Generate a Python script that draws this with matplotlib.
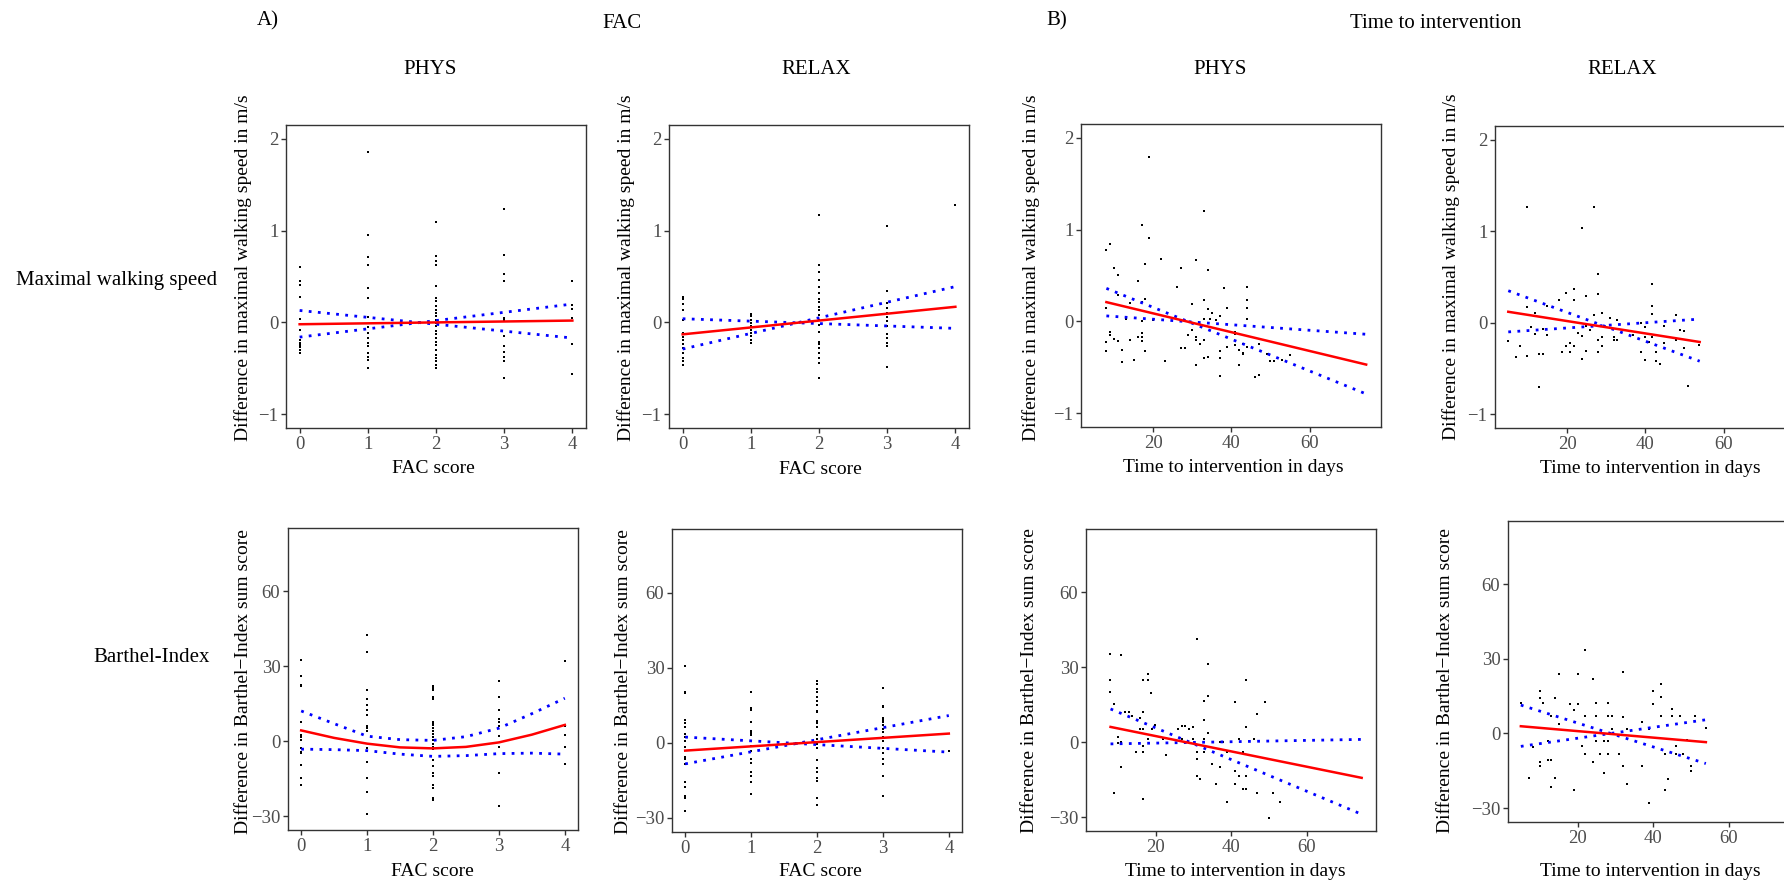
import numpy as np
import matplotlib.pyplot as plt

plt.rcParams['font.family'] = ['Liberation Serif', 'DejaVu Serif']
plt.rcParams['axes.unicode_minus'] = True

W, H = 1784, 885

# ---------------- data ----------------
fac_scores = [0, 1, 2, 3, 4]

# A) FAC score vs change in maximal walking speed (m/s)
phys_speed_fac = [
    [0.60, 0.45, 0.41, 0.28, 0.04, -0.08, -0.19, -0.22, -0.25, -0.27, -0.30, -0.33],
    [1.86, 0.95, 0.71, 0.62, 0.37, 0.27, 0.06, -0.05, -0.12, -0.17, -0.22, -0.26, -0.33, -0.38, -0.41, -0.50],
    [1.09, 0.72, 0.67, 0.62, 0.40, 0.27, 0.23, 0.18, 0.14, 0.10, 0.07, 0.03, -0.01, -0.04, -0.09, -0.13,
     -0.17, -0.21, -0.25, -0.30, -0.35, -0.39, -0.42, -0.46, -0.50],
    [1.24, 0.73, 0.53, 0.45, 0.05, 0.03, -0.15, -0.26, -0.32, -0.38, -0.42, -0.61],
    [0.45, 0.19, 0.15, 0.05, -0.24, -0.56],
]
relax_speed_fac = [
    [0.28, 0.25, 0.20, 0.13, 0.03, -0.12, -0.16, -0.19, -0.24, -0.28, -0.33, -0.39, -0.42, -0.46],
    [0.09, 0.07, 0.03, -0.01, -0.04, -0.08, -0.12, -0.15, -0.19, -0.22],
    [1.17, 0.62, 0.55, 0.46, 0.39, 0.32, 0.26, 0.22, 0.17, 0.13, 0.08, 0.03, -0.03, -0.10, -0.21, -0.24,
     -0.28, -0.33, -0.39, -0.44, -0.60],
    [1.05, 0.34, 0.21, 0.16, 0.10, 0.06, 0.01, -0.04, -0.13, -0.17, -0.22, -0.26, -0.49],
    [1.28],
]

# A) FAC score vs change in Barthel-Index
phys_barthel_fac = [
    [32.5, 26.1, 22.3, 21.9, 7.5, 2.3, 1.5, 0.5, -2.8, -4.4, -4.8, -9.7, -14.8, -17.7],
    [42.5, 35.9, 20.3, 16.9, 14.5, 12.5, 10.5, 5.9, 5.2, 3.9, -2.8, -4.1, -8.4, -14.8, -20.5, -29.2],
    [22.1, 21.2, 20.3, 17.6, 16.9, 7.6, 6.9, 6.3, 5.2, 3.9, 2.8, 1.5, 0.3, -1.1, -2.4, -3.1, -7.5, -9.9,
     -12.8, -13.9, -17.7, -18.8, -22.8, -23.5],
    [23.9, 17.6, 12.3, 8.9, 7.6, 6.1, 2.1, -2.4, -12.8, -26.1],
    [32.3, 6.1, 2.3, -2.5, -9.2],
]
relax_barthel_fac = [
    [30.5, 20.3, 19.9, 9.2, 7.9, 6.3, 3.6, 2.5, 0.9, -1.7, -5.5, -6.4, -8.4, -15.7, -17.5, -21.1, -22.0, -27.1],
    [20.5, 13.9, 13.2, 8.3, 4.9, 4.0, 3.2, -1.3, -3.3, -6.4, -8.0, -11.7, -13.1, -15.7, -20.4],
    [24.9, 23.6, 21.6, 20.3, 18.3, 16.9, 15.2, 12.9, 12.3, 8.9, 7.9, 6.3, 3.2, 1.6, -0.4, -2.0, -6.8,
     -10.1, -11.7, -14.1, -15.1, -22.0, -24.7],
    [22.0, 14.9, 14.3, 10.0, 9.2, 8.3, 7.2, 5.6, 4.3, 2.3, 0.9, -2.0, -4.1, -6.4, -8.4, -13.3, -21.1],
    [-3.1],
]

# B) time to intervention (days) vs change in maximal walking speed
phys_speed_days = [19, 17, 19, 9, 8, 18, 22, 10, 11, 16, 27, 31, 34, 33, 26, 38, 44, 44, 44, 44,
                   8, 11, 14, 17, 18, 13, 17, 20, 30, 33, 34, 33, 34.4, 35, 36, 37, 39,
                   8, 8, 9, 9, 10, 11, 12, 12, 14, 15, 16, 17, 17, 17, 18, 23, 27, 28, 28, 29,
                   30, 31, 31, 32, 33, 33, 31, 34, 37, 37, 37, 39, 41, 41, 41, 42, 42, 43, 43, 43,
                   46, 47, 47, 49, 50, 51, 53, 55, 44]
phys_speed_diff = [1.79, 1.05, 0.91, 0.84, 0.78, 0.63, 0.68, 0.58, 0.51, 0.44, 0.58, 0.67, 0.56, 1.20,
                   0.37, 0.36, 0.37, 0.23, 0.15, 0.03,
                   0.15, 0.29, 0.20, 0.21, 0.24, 0.03, 0.00, 0.01, 0.19, 0.23, 0.13, 0.03, 0.03, 0.09,
                   0.01, 0.06, 0.15,
                   -0.22, -0.32, -0.11, -0.15, -0.19, -0.21, -0.31, -0.44, -0.20, -0.42, -0.17, -0.13,
                   -0.17, -0.21, -0.32, -0.43, -0.29, -0.29, 0.00, -0.15,
                   -0.09, -0.17, -0.20, -0.25, -0.20, -0.40, -0.47, -0.39, -0.32, -0.40, -0.59, -0.28,
                   -0.11, -0.14, -0.26, -0.31, -0.48, -0.25, -0.34, -0.36,
                   -0.60, -0.58, -0.25, -0.35, -0.43, -0.43, -0.42, -0.37, -0.28]
relax_speed_days = [9.7, 26.8, 23.8, 27.9, 41.8, 19.7, 21.7, 24.9, 27.9, 17.9, 21.7, 9.7, 41.8, 41.8,
                    11.8, 14.8, 28.9, 30.9, 32.8, 26.8, 47.8,
                    4.9, 6.8, 7.8, 9.7, 10.8, 11.8, 12.7, 13.8, 13.8, 14.8, 12.7, 18.7, 19.7, 20.8,
                    21.7, 20.8, 22.7, 23.8, 23.8, 24.9, 24.9, 25.9, 27.9, 27.9, 28.9, 28.9, 31.9,
                    31.9, 32.8, 36.8, 38.8, 39.8, 39.8, 40.9, 41.8, 42.8, 42.8, 43.8, 44.8, 45.8,
                    47.8, 44.8, 48.8, 49.8, 49.8, 50.8, 53.8, 39.8, 38.8]
relax_speed_diff = [1.26, 1.26, 1.04, 0.53, 0.42, 0.32, 0.37, 0.29, 0.31, 0.25, 0.25, 0.17, 0.18, 0.10,
                    0.11, 0.18, 0.11, 0.05, 0.03, 0.08, 0.09,
                    -0.20, -0.37, -0.25, -0.36, -0.05, -0.12, -0.34, -0.34, -0.07, -0.13, -0.70,
                    -0.32, -0.25, -0.22, -0.25, -0.32, -0.11, -0.15, -0.40, -0.03, -0.31, -0.08,
                    -0.19, -0.32, -0.25, -0.16, -0.16, -0.19, -0.19, -0.13, -0.32, -0.41, -0.16,
                    -0.21, -0.16, -0.32, -0.42, -0.45, -0.22, -0.16, -0.19, -0.04, -0.08, -0.09,
                    -0.28, -0.69, -0.24, -0.05, 0.00]

# B) time to intervention (days) vs change in Barthel-Index
phys_barthel_days = [7.8, 10.7, 7.8, 7.8, 8.9, 9.9, 9.9, 10.8, 8.9, 10.8, 11.9, 12.9, 13.7, 14.8, 15.7,
                     15.7, 16.7, 17.8, 17.8, 16.7, 16.7, 16.7, 16.7, 16.7, 17.8, 18.8, 18.9, 19.8,
                     21.9, 22.8, 25.8, 26.9, 27.8, 26.9, 28.8, 29.8, 29.8, 30.9, 30.9, 30.9, 30.9,
                     31.7, 32.8, 32.8, 32.8, 32.8, 33.9, 33.9, 33.9, 34.8, 35.9, 36.9, 36.9, 37.7,
                     38.8, 38.8, 40.9, 40.9, 40.9, 41.9, 41.9, 43.0, 43.0, 43.9, 43.9, 43.9, 43.9,
                     45.9, 46.9, 46.9, 48.9, 51.0, 52.9, 49.9]
phys_barthel_diff = [35.2, 35.1, 25.1, 20.1, 15.3, 2.0, -0.3, 0.1, -20.3, -10.0, 12.1, 12.1, 10.4,
                     -3.9, 9.7, 5.1, 24.8, 24.8, 27.2, 12.1, 5.1, -1.6, -3.9, -22.9, 1.3, 19.7, 5.1,
                     6.8, 1.1, -5.2, 5.1, 6.4, 6.4, 1.1, 5.1, 6.1, 1.1, 41.3, -3.9, -6.7, -13.6,
                     -14.9, 16.4, 8.7, 1.1, -3.9, 31.3, 18.4, 3.5, -8.7, -16.7, 0.0, -10.0, 0.0,
                     -3.9, -23.9, 16.1, -11.6, -16.7, 1.1, -13.6, -3.9, -18.7, 25.1, 6.1, -13.6,
                     -18.7, 1.1, 11.1, -20.3, 16.1, -20.3, -23.9, -30.3]
relax_barthel_days = [4.9, 7.0, 8.0, 10.0, 10.0, 10.0, 10.0, 10.9, 12.0, 12.0, 12.9, 12.9, 12.9, 14.0,
                      14.0, 14.9, 14.9, 18.0, 19.0, 19.0, 20.0, 20.0, 21.0, 21.9, 21.9, 21.9, 24.0,
                      24.0, 24.9, 24.9, 24.9, 25.9, 27.0, 27.0, 28.0, 28.0, 28.0, 28.0, 29.0, 29.0,
                      30.9, 32.0, 32.0, 32.0, 33.0, 33.0, 36.9, 36.9, 38.9, 38.9, 39.9, 39.9, 42.0,
                      42.0, 42.0, 43.0, 43.0, 44.0, 45.0, 45.0, 45.9, 45.9, 47.0, 47.9, 48.9, 49.9,
                      49.9, 50.9, 53.9]
relax_barthel_diff = [12.4, -17.8, -5.6, 17.2, 14.4, -11.6, -12.9, 12.4, -2.9, -10.5, -10.5, -21.4,
                      7.2, 14.4, -17.8, 23.7, 3.7, 11.8, 9.4, -22.9, 23.7, 11.8, -5.2, 33.4, 7.0,
                      -8.1, 21.7, -11.6, 12.4, 7.0, -2.9, -8.1, -15.8, -2.9, 12.4, 7.0, -2.9, -8.1,
                      7.0, 1.7, -8.1, 24.7, 6.8, -13.2, 1.7, -20.2, 4.8, -13.2, 1.7, -28.1, 17.2,
                      11.8, 19.7, 14.8, 7.0, -8.1, -22.9, -18.2, 9.7, 7.0, -5.2, -8.1, 7.0, -8.1,
                      -2.8, -12.9, -15.2, 7.0, 2.0]

# fitted lines (red) and dotted bounds (blue), read at the plotted x positions
fit_fac_x = [0, 4]
phys_speed_fac_fit = [-0.02, 0.02]
phys_speed_fac_b1 = [0.13, -0.17]
phys_speed_fac_b2 = [-0.16, 0.20]
relax_speed_fac_fit = [-0.13, 0.17]
relax_speed_fac_b1 = [0.04, -0.065]
relax_speed_fac_b2 = [-0.29, 0.39]

fit_fac_curve_x = [0, 0.5, 1, 1.5, 2, 2.5, 3, 3.5, 4]
phys_barthel_fac_fit = [4.3, 1.3, -1.0, -2.5, -2.9, -2.3, -0.5, 2.6, 6.5]
phys_barthel_fac_b1 = [12.1, 7.0, 2.0, 0.6, 0.3, 1.8, 5.2, 11.0, 17.2]
phys_barthel_fac_b2 = [-3.2, -3.4, -3.8, -5.2, -6.1, -5.8, -5.0, -4.8, -5.2]
relax_barthel_fac_fit = [-3.1, 3.7]
relax_barthel_fac_b1 = [2.3, -3.7]
relax_barthel_fac_b2 = [-8.4, 10.9]

phys_days_fit_x = [8, 74.5]
phys_speed_days_fit = [0.21, -0.47]
phys_speed_days_b1 = [0.36, -0.79]
phys_speed_days_b2 = [0.06, -0.14]
phys_barthel_days_fit = [6.1, -14.3]
phys_barthel_days_b1 = [13.3, -28.9]
phys_barthel_days_b2 = [-0.7, 1.1]

relax_days_fit_x = [4.9, 53.9]
relax_speed_days_fit = [0.12, -0.21]
relax_speed_days_b1 = [0.35, -0.42]
relax_speed_days_b2 = [-0.10, 0.04]
relax_barthel_days_fit = [2.9, -3.5]
relax_barthel_days_b1 = [11.4, -12.1]
relax_barthel_days_b2 = [-5.2, 5.5]

speed_ylabel = "Difference in maximal walking speed in m/s"
barthel_ylabel = "Difference in Barthel\u2212Index sum score"
fac_xlabel = "FAC score"
days_xlabel = "Time to intervention in days"


def fac_xy(groups):
    xs = np.concatenate([[s] * len(g) for s, g in zip(fac_scores, groups)])
    ys = np.concatenate(groups)
    return xs, ys


# ---------------- drawing ----------------
fig = plt.figure(figsize=(W / 100, H / 100), dpi=100)

FRAME = '#333333'
TICKLAB = '#4D4D4D'


def panel(box, xs, ys, fx, fy, b1, b2, xlabel, ylabel, xticks, xlim, yticks, ylim, xlab_px, ylab_px):
    l, t, r, b = box
    ax = fig.add_axes([l / W, 1 - b / H, (r - l) / W, (b - t) / H])
    ax.scatter(xs, ys, s=3, marker='s', color='black', linewidths=0, zorder=2)
    ax.plot(fx, b1, color='#0000FF', lw=2.0, linestyle=(0, (1, 2.3)), zorder=3)
    ax.plot(fx, b2, color='#0000FF', lw=2.0, linestyle=(0, (1, 2.3)), zorder=3)
    ax.plot(fx, fy, color='#FF0000', lw=1.8, zorder=4)
    ax.set_xlim(xlim)
    ax.set_ylim(ylim)
    ax.set_xticks(xticks)
    ax.set_yticks(yticks)
    for sp in ax.spines.values():
        sp.set_color(FRAME)
        sp.set_linewidth(1.0)
    ax.tick_params(direction='out', length=3.5, width=1.0, color=FRAME,
                   labelcolor=TICKLAB, labelsize=13.5, pad=2)
    ax.set_xlabel(xlabel, fontsize=14, color='black')
    ax.set_ylabel(ylabel, fontsize=14, color='black', ha='center', va='center')
    ax.xaxis.set_label_coords((xlab_px[0] - l) / (r - l), (b - xlab_px[1]) / (b - t))
    ax.xaxis.label.set_va('center')
    ax.yaxis.set_label_coords((ylab_px[0] - l) / (r - l), (b - ylab_px[1]) / (b - t))
    return ax


fac_xlim = (-0.2, 4.2)
days_xlim = (1.5, 78.3)
speed_ylim = (-1.15, 2.15)
barthel_ylim = (-35.6, 85.4)

x, y = fac_xy(phys_speed_fac)
panel((286, 125, 586, 428), x, y, fit_fac_x, phys_speed_fac_fit, phys_speed_fac_b1, phys_speed_fac_b2,
      fac_xlabel, speed_ylabel, fac_scores, fac_xlim, [-1, 0, 1, 2], speed_ylim, (433, 468), (243, 268))

x, y = fac_xy(relax_speed_fac)
panel((669, 125, 969, 428), x, y, fit_fac_x, relax_speed_fac_fit, relax_speed_fac_b1, relax_speed_fac_b2,
      fac_xlabel, speed_ylabel, fac_scores, fac_xlim, [-1, 0, 1, 2], speed_ylim, (820, 469), (626, 268))

panel((1081, 124, 1381, 427), phys_speed_days, phys_speed_diff, phys_days_fit_x, phys_speed_days_fit,
      phys_speed_days_b1, phys_speed_days_b2, days_xlabel, speed_ylabel, [20, 40, 60], days_xlim,
      [-1, 0, 1, 2], speed_ylim, (1233, 468), (1031, 268))

panel((1495, 126, 1795, 428), relax_speed_days, relax_speed_diff, relax_days_fit_x, relax_speed_days_fit,
      relax_speed_days_b1, relax_speed_days_b2, days_xlabel, speed_ylabel, [20, 40, 60], days_xlim,
      [-1, 0, 1, 2], speed_ylim, (1650, 468), (1451, 267))

x, y = fac_xy(phys_barthel_fac)
panel((288, 528, 578, 830), x, y, fit_fac_curve_x, phys_barthel_fac_fit, phys_barthel_fac_b1,
      phys_barthel_fac_b2, fac_xlabel, barthel_ylabel, fac_scores, fac_xlim, [-30, 0, 30, 60],
      barthel_ylim, (432, 871), (244, 682))

x, y = fac_xy(relax_barthel_fac)
panel((672, 529, 962, 832), x, y, fit_fac_x, relax_barthel_fac_fit, relax_barthel_fac_b1,
      relax_barthel_fac_b2, fac_xlabel, barthel_ylabel, fac_scores, fac_xlim, [-30, 0, 30, 60],
      barthel_ylim, (820, 872), (624, 682))

panel((1086, 529, 1376, 831), phys_barthel_days, phys_barthel_diff, phys_days_fit_x, phys_barthel_days_fit,
      phys_barthel_days_b1, phys_barthel_days_b2, days_xlabel, barthel_ylabel, [20, 40, 60], days_xlim,
      [-30, 0, 30, 60], barthel_ylim, (1235, 871), (1030, 681))

panel((1508, 521, 1798, 822), relax_barthel_days, relax_barthel_diff, relax_days_fit_x,
      relax_barthel_days_fit, relax_barthel_days_b1, relax_barthel_days_b2, days_xlabel, barthel_ylabel,
      [20, 40, 60], days_xlim, [-30, 0, 30, 60], barthel_ylim, (1650, 871), (1445, 681))

# headings and row labels
def ftext(px, py, s, size=15):
    fig.text(px / W, 1 - py / H, s, ha='center', va='center', fontsize=size, color='black')


ftext(268, 21, "A)")
ftext(622, 23, "FAC")
ftext(1057, 21, "B)")
ftext(1436, 23, "Time to intervention")
ftext(430, 70, "PHYS")
ftext(816, 70, "RELAX")
ftext(1220, 70, "PHYS")
ftext(1622, 70, "RELAX")
ftext(117, 281, "Maximal walking speed")
ftext(152, 657, "Barthel-Index")

fig.savefig("out.png", dpi=100)
